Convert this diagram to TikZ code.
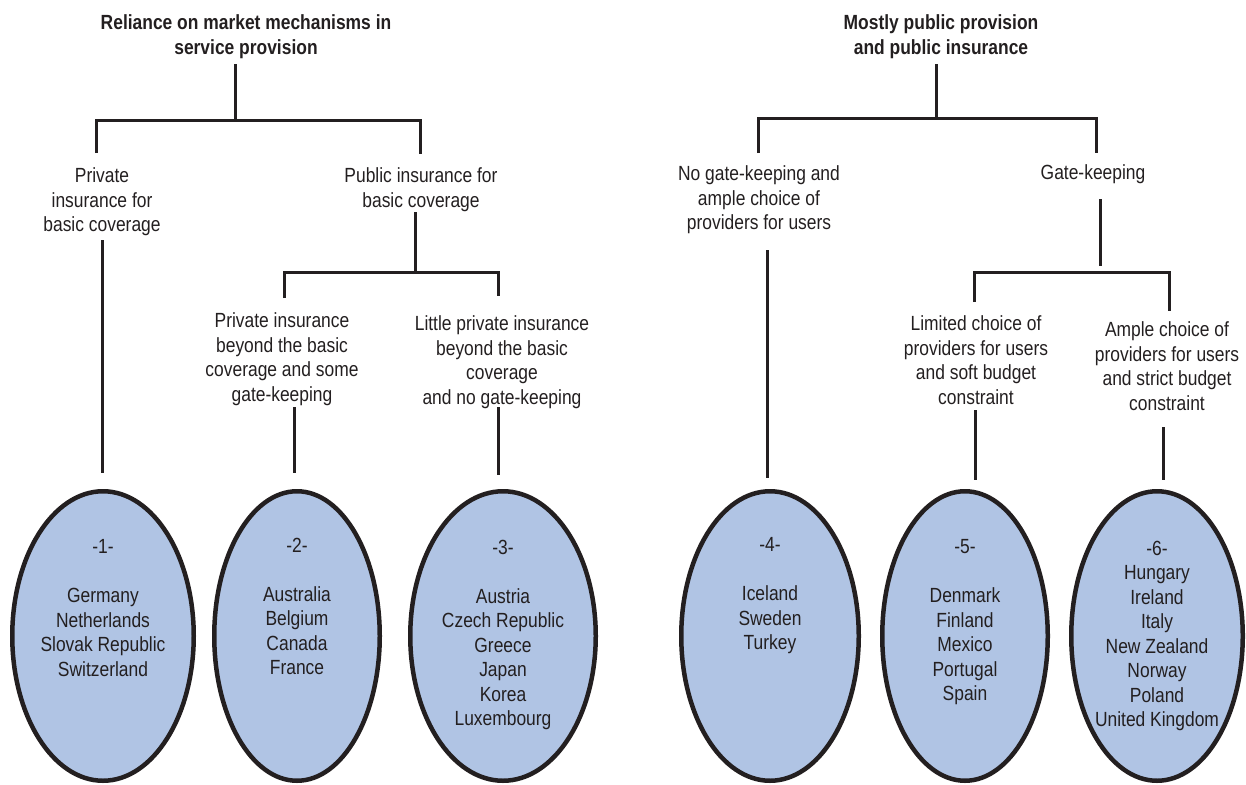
\documentclass[tikz,border=0pt]{standalone}
\usepackage{fontspec}
\setmainfont{Liberation Sans}[FakeStretch=0.85]
\usetikzlibrary{shapes.geometric}
\definecolor{ink}{RGB}{35,31,32}
\definecolor{ovalblue}{RGB}{176,196,228}
\begin{document}
\begin{tikzpicture}[x=1pt,y=-1pt,
  lbl/.style={align=center, inner sep=0pt, anchor=north, text=ink, font=\fontsize{20.5}{24.5}\selectfont},
  ttl/.style={lbl, font=\bfseries\fontsize{20.5}{25}\selectfont},
  oval/.style={ellipse, draw=ink, line width=4.5pt, fill=ovalblue, inner sep=0pt, minimum height=289.5pt},
  conn/.style={draw=ink, line width=3pt}]
\useasboundingbox (0,0) rectangle (1246,784);

% ellipses
\node[oval, minimum width=181.5pt] (e1) at (103,636) {};
\node[oval, minimum width=165.5pt] (e2) at (297,636) {};
\node[oval, minimum width=185.5pt] (e3) at (503,636) {};
\node[oval, minimum width=177.5pt] (e4) at (770,636) {};
\node[oval, minimum width=165.5pt] (e5) at (965,636) {};
\node[oval, minimum width=171.5pt] (e6) at (1157,636) {};

% ellipse texts
\node[lbl] (c1) at (103,539.5) {-1-\\[24.5pt]Germany\\Netherlands\\Slovak Republic\\Switzerland};
\node[lbl] (c2) at (297,537.5) {-2-\\[24.5pt]Australia\\Belgium\\Canada\\France};
\node[lbl] (c3) at (503,539.5) {-3-\\[24.5pt]Austria\\Czech Republic\\Greece\\Japan\\Korea\\Luxembourg};
\node[lbl] (c4) at (770,537.5) {-4-\\[24.5pt]Iceland\\Sweden\\Turkey};
\node[lbl] (c5) at (965,539.5) {-5-\\[24.5pt]Denmark\\Finland\\Mexico\\Portugal\\Spain};
\node[lbl] (c6) at (1157,540.5) {-6-\\Hungary\\Ireland\\Italy\\New Zealand\\Norway\\Poland\\United Kingdom};

% titles
\node[ttl] (tl) at (246,14.5) {Reliance on market mechanisms in\\service provision};
\node[ttl] (tr) at (941,14.5) {Mostly public provision\\and public insurance};

% labels
\node[lbl] (l1) at (102,167.5) {Private\\insurance for\\basic coverage};
\node[lbl] (l2) at (421,167.5) {Public insurance for\\basic coverage};
\node[lbl] (l3) at (282,312.5) {Private insurance\\beyond the basic\\coverage and some\\gate-keeping};
\node[lbl] (l4) at (502,315.5) {Little private insurance\\beyond the basic\\coverage\\and no gate-keeping};
\node[lbl] (r1) at (759,165.5) {No gate-keeping and\\ample choice of\\providers for users};
\node[lbl] (r2) at (1093,164.5) {Gate-keeping};
\node[lbl] (r3) at (976,315.5) {Limited choice of\\providers for users\\and soft budget\\constraint};
\node[lbl] (r4) at (1167,321.5) {Ample choice of\\providers for users\\and strict budget\\constraint};

% connector points - left tree
\coordinate (ta0) at (235,64);  \coordinate (ta1) at (235,120);
\coordinate (ba1) at (96,153);  \coordinate (ba2) at (96,120);
\coordinate (ba3) at (420,120); \coordinate (ba4) at (420,154);
\coordinate (la0) at (102,240); \coordinate (la1) at (102,473);
\coordinate (pa0) at (415,212); \coordinate (pa1) at (415,272);
\coordinate (bb1) at (284,298); \coordinate (bb2) at (284,272);
\coordinate (bb3) at (498,272); \coordinate (bb4) at (498,296);
\coordinate (qa0) at (294,407); \coordinate (qa1) at (294,473);
\coordinate (qb0) at (498,407); \coordinate (qb1) at (498,475);
% right tree
\coordinate (tb0) at (936,64);  \coordinate (tb1) at (936,118);
\coordinate (bc1) at (758,153); \coordinate (bc2) at (758,118);
\coordinate (bc3) at (1096,118);\coordinate (bc4) at (1096,153);
\coordinate (ra0) at (767,250); \coordinate (ra1) at (767,478);
\coordinate (ga0) at (1100,199);\coordinate (ga1) at (1100,266);
\coordinate (bd1) at (974,302); \coordinate (bd2) at (974,272);
\coordinate (bd3) at (1169,272);\coordinate (bd4) at (1169,311);
\coordinate (sa0) at (975,410); \coordinate (sa1) at (975,480);
\coordinate (sb0) at (1163,427);\coordinate (sb1) at (1163,480);

\draw[conn] (ta0) -- (ta1);
\draw[conn] (ba1) -- (ba2) -- (ba3) -- (ba4);
\draw[conn] (la0) -- (la1);
\draw[conn] (pa0) -- (pa1);
\draw[conn] (bb1) -- (bb2) -- (bb3) -- (bb4);
\draw[conn] (qa0) -- (qa1);
\draw[conn] (qb0) -- (qb1);

\draw[conn] (tb0) -- (tb1);
\draw[conn] (bc1) -- (bc2) -- (bc3) -- (bc4);
\draw[conn] (ra0) -- (ra1);
\draw[conn] (ga0) -- (ga1);
\draw[conn] (bd1) -- (bd2) -- (bd3) -- (bd4);
\draw[conn] (sa0) -- (sa1);
\draw[conn] (sb0) -- (sb1);
\end{tikzpicture}
\end{document}
